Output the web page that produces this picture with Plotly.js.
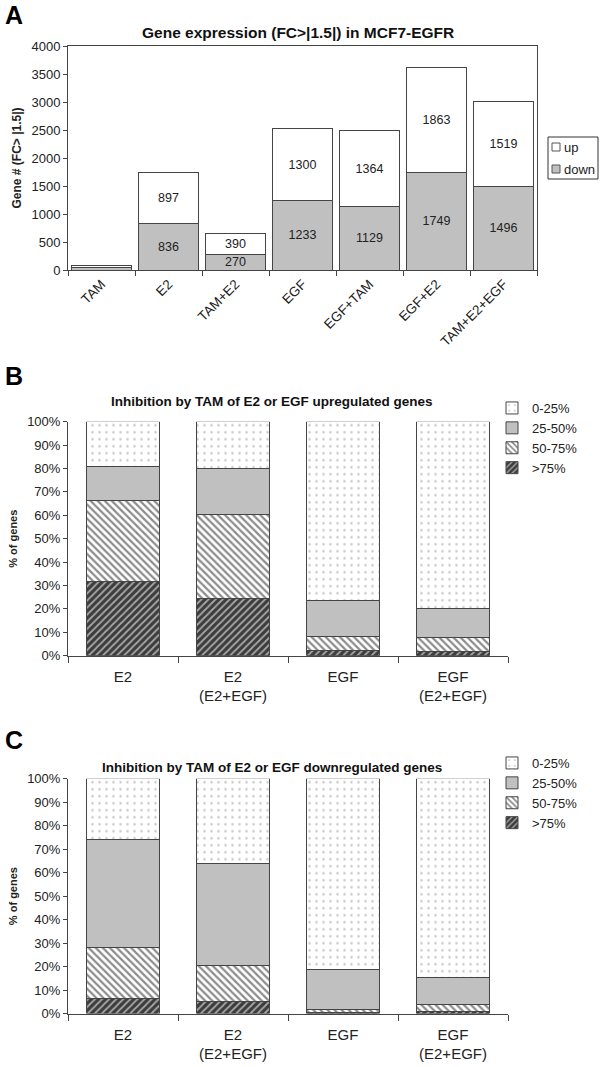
<!DOCTYPE html>
<html><head><meta charset="utf-8">
<script src="https://cdn.plot.ly/plotly-3.0.1.min.js"></script>
<style>html,body{margin:0;padding:0;background:#fff}#chart{width:600px;height:1067px}</style>
</head><body><div id="chart"></div>
<script>
// Panel A data
const catsA = ["TAM","E2","TAM+E2","EGF","EGF+TAM","EGF+E2","TAM+E2+EGF"];
const downA = [45, 836, 270, 1233, 1129, 1749, 1496];
const upA   = [30, 897, 390, 1300, 1364, 1863, 1519];
const downLabelsA = ["", "836", "270", "1233", "1129", "1749", "1496"];
const upLabelsA   = ["", "897", "390", "1300", "1364", "1863", "1519"];
const seriesA = ["up", "down"];

// Panels B and C
const catsBC = ["E2", "E2<br>(E2+EGF)", "EGF", "EGF<br>(E2+EGF)"];
const levels = ["0-25%", "25-50%", "50-75%", ">75%"];
// upregulated genes (B), % per level
const upGt75   = [31.9, 24.5, 2.4, 2.0];
const up50_75  = [34.5, 35.8, 5.9, 5.7];
const up25_50  = [14.5, 19.8, 15.5, 12.5];
const up0_25   = [19.1, 19.9, 76.2, 79.8];
// downregulated genes (C)
const dnGt75   = [6.3, 5.1, 0.6, 0.8];
const dn50_75  = [21.9, 15.4, 1.1, 3.1];
const dn25_50  = [46.0, 43.3, 17.1, 11.5];
const dn0_25   = [25.8, 36.2, 81.2, 84.6];

const FONT = "Liberation Sans, Arial, sans-serif";
const EDGE = "#454545";
const GRAY = "#c0c0c0";

const styles = {
  ">75%":   {color:"#3c3c3c", pattern:{shape:"/", bgcolor:"#3c3c3c", fgcolor:"#a8a8a8", size:5, solidity:0.35}},
  "50-75%": {color:"#ffffff", pattern:{shape:"\\", bgcolor:"#ffffff", fgcolor:"#8c8c8c", size:5, solidity:0.45}},
  "25-50%": {color:GRAY},
  "0-25%":  {color:"#ffffff", pattern:{shape:".", bgcolor:"#ffffff", fgcolor:"#c8c8c8", size:7, solidity:0.1}}
};

function bcTraces(vals, xa, ya, leg) {
  const order = [">75%", "50-75%", "25-50%", "0-25%"];
  return order.map((lv, i) => {
    const st = styles[lv];
    const m = {color: st.color, line:{color:EDGE, width:1}};
    if (st.pattern) m.pattern = st.pattern;
    return {type:"bar", name:lv, x:catsBC, y:vals[i], xaxis:xa, yaxis:ya, legend:leg,
            width:0.66, marker:m, hoverinfo:"skip"};
  });
}

const labelFont = {family:FONT, size:12.5, color:"#222"};
const traces = [
  {type:"bar", name:"down", x:catsA, y:downA, xaxis:"x", yaxis:"y", showlegend:false,
   width:0.91, marker:{color:GRAY, line:{color:EDGE, width:1}},
   text:downLabelsA, textposition:"inside", insidetextanchor:"middle", textangle:0, constraintext:"none",
   textfont:labelFont, hoverinfo:"skip"},
  {type:"bar", name:"up", x:catsA, y:upA, xaxis:"x", yaxis:"y", showlegend:false,
   width:0.91, marker:{color:"#ffffff", line:{color:EDGE, width:1}},
   text:upLabelsA, textposition:"inside", insidetextanchor:"middle", textangle:0, constraintext:"none",
   textfont:labelFont, hoverinfo:"skip"},
  ...bcTraces([upGt75, up50_75, up25_50, up0_25], "x2", "y2", "legend2"),
  ...bcTraces([dnGt75, dn50_75, dn25_50, dn0_25], "x3", "y3", "legend3")
];

const H = 1067, W = 600;
const dy = (top, bot) => [1 - bot/H, 1 - top/H];
const dx = (l, r) => [l/W, r/W];
const px = v => v/W, py = v => 1 - v/H;

// compact boxed legend for panel A (drawn as shapes + text)
const legendShapes = [
  {type:"rect", xref:"paper", yref:"paper", x0:px(548), x1:px(598), y0:py(179), y1:py(137), line:{color:"#333", width:1}, fillcolor:"#fff"},
  {type:"rect", xref:"paper", yref:"paper", x0:px(552), x1:px(560), y0:py(151), y1:py(143), line:{color:"#555", width:1}, fillcolor:"#fff"},
  {type:"rect", xref:"paper", yref:"paper", x0:px(552), x1:px(560), y0:py(173), y1:py(165), line:{color:"#555", width:1}, fillcolor:GRAY}
];
const legendTexts = seriesA.map((s, i) => ({text:s, x:px(562), y:py(147 + 22*i), xref:"paper", yref:"paper",
  xanchor:"left", yanchor:"middle", showarrow:false, font:{family:FONT, size:13, color:"#222"}}));

const axisFont = {family:FONT, size:13, color:"#222"};
const catFont = {family:FONT, size:15, color:"#222"};
const layout = {
  width:W, height:H, margin:{l:0, r:0, t:0, b:0},
  paper_bgcolor:"#fff", plot_bgcolor:"#fff",
  barmode:"stack",
  font:{family:FONT, color:"#222"},
  xaxis:{domain:dx(68,537), anchor:"y", type:"category", showline:true, linecolor:"#444", mirror:true,
         ticks:"outside", ticklen:5, tickcolor:"#444", tickson:"boundaries", tickangle:-45,
         tickfont:{family:FONT, size:13.5, color:"#222"}, showgrid:false, zeroline:false},
  yaxis:{domain:dy(46,270), anchor:"x", range:[0,4000], dtick:500, showline:true, linecolor:"#444", mirror:true,
         ticks:"outside", ticklen:4, tickcolor:"#444", tickfont:axisFont, showgrid:false, zeroline:false,
         title:{text:"<b>Gene # (FC> |1.5|)</b>", font:{family:FONT, size:12, color:"#222"}, standoff:7}},
  xaxis2:{domain:dx(68,508), anchor:"y2", type:"category", showline:true, linecolor:"#444",
         ticks:"outside", ticklen:6, tickcolor:"#444", tickson:"boundaries", tickangle:0, ticklabelstandoff:7,
         tickfont:catFont, showgrid:false, zeroline:false},
  yaxis2:{domain:dy(421.7,655.7), anchor:"x2", range:[0,100], dtick:10, ticksuffix:"%", showline:true, linecolor:"#444",
         ticks:"outside", ticklen:4, tickcolor:"#444", tickfont:axisFont, showgrid:false, zeroline:false,
         title:{text:"<b>% of genes</b>", font:{family:FONT, size:11, color:"#222"}, standoff:7}},
  xaxis3:{domain:dx(68,508), anchor:"y3", type:"category", showline:true, linecolor:"#444",
         ticks:"outside", ticklen:6, tickcolor:"#444", tickson:"boundaries", tickangle:0, ticklabelstandoff:7,
         tickfont:catFont, showgrid:false, zeroline:false},
  yaxis3:{domain:dy(778.7,1013.5), anchor:"x3", range:[0,100], dtick:10, ticksuffix:"%", showline:true, linecolor:"#444",
         ticks:"outside", ticklen:4, tickcolor:"#444", tickfont:axisFont, showgrid:false, zeroline:false,
         title:{text:"<b>% of genes</b>", font:{family:FONT, size:11, color:"#222"}, standoff:7}},
  legend2:{x:492/W, y:1-393/H, xanchor:"left", yanchor:"top", traceorder:"reversed",
          bgcolor:"rgba(0,0,0,0)", font:{family:FONT, size:13, color:"#222"}, itemwidth:30},
  legend3:{x:492/W, y:1-748/H, xanchor:"left", yanchor:"top", traceorder:"reversed",
          bgcolor:"rgba(0,0,0,0)", font:{family:FONT, size:13, color:"#222"}, itemwidth:30},
  shapes: legendShapes,
  annotations:[
    {text:"<b>A</b>", x:3/W, y:1-15/H, xref:"paper", yref:"paper", xanchor:"left", yanchor:"middle", showarrow:false, font:{family:FONT, size:25, color:"#000"}},
    {text:"<b>B</b>", x:3/W, y:1-376/H, xref:"paper", yref:"paper", xanchor:"left", yanchor:"middle", showarrow:false, font:{family:FONT, size:25, color:"#000"}},
    {text:"<b>C</b>", x:3/W, y:1-740/H, xref:"paper", yref:"paper", xanchor:"left", yanchor:"middle", showarrow:false, font:{family:FONT, size:25, color:"#000"}},
    {text:"<b>Gene expression (FC>|1.5|) in MCF7-EGFR</b>", x:298/W, y:1-32/H, xref:"paper", yref:"paper", xanchor:"center", yanchor:"middle", showarrow:false, font:{family:FONT, size:15.5, color:"#111"}},
    {text:"<b>Inhibition by TAM of E2 or EGF upregulated genes</b>", x:272/W, y:1-402/H, xref:"paper", yref:"paper", xanchor:"center", yanchor:"middle", showarrow:false, font:{family:FONT, size:13.5, color:"#111"}},
    {text:"<b>Inhibition by TAM of E2 or EGF downregulated genes</b>", x:272/W, y:1-767/H, xref:"paper", yref:"paper", xanchor:"center", yanchor:"middle", showarrow:false, font:{family:FONT, size:13.5, color:"#111"}},
    ...legendTexts
  ]
};

Plotly.newPlot("chart", traces, layout, {staticPlot:true, displayModeBar:false});
</script>
</body></html>
